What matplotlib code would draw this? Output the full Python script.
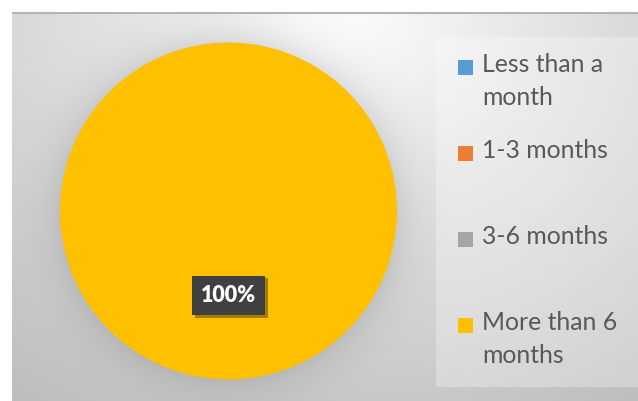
import numpy as np
import matplotlib
matplotlib.use("Agg")
import matplotlib.pyplot as plt
import matplotlib.patheffects as pe
from matplotlib.patches import Rectangle

categories = ["Less than a\nmonth", "1-3 months", "3-6 months", "More than 6\nmonths"]
values = [0, 0, 0, 100]
colors = ["#5B9BD5", "#ED7D31", "#A5A5A5", "#FFC000"]

W, H = 638, 401
fig = plt.figure(figsize=(W / 100, H / 100), dpi=100)
fig.patch.set_facecolor("white")

# chart area with a soft radial gradient and a shadow ring around the pie
x0, y0 = 12, 12
bg = fig.add_axes([x0 / W, 0, (W - x0) / W, (H - y0) / H])
bg.set_axis_off()
yy, xx = np.mgrid[y0:H, x0:W].astype(float)
d = np.hypot((xx - 330) * 1.0, (yy - 20) * 1.15)
shade = np.clip(1.0 - 0.00048 * d, 0.74, 0.985)
cx, cy, R = 228.5, 211.0, 168.5
r = np.hypot(xx - cx, yy - cy)
ring = np.exp(-np.clip(r - R, 0, None) / 22.0) * (r >= R - 2)
shade = shade * (1 - 0.10 * ring)
img = np.dstack([shade, shade, shade])
bg.imshow(img, extent=[x0, W, H, y0], aspect="auto", interpolation="bilinear")
bg.set_xlim(x0, W)
bg.set_ylim(H, y0)
bg.plot([x0, W], [y0 + 0.8, y0 + 0.8], color="#b4b4b4", lw=1.5)

# legend panel
bg.add_patch(Rectangle((436, 37), W - 436, 387 - 37, facecolor="white",
                       alpha=0.28, edgecolor="none"))

# pie
ax = fig.add_axes([(cx - R) / W, (H - cy - R) / H, 2 * R / W, 2 * R / H])
ax.set_axis_off()
wedges, texts, autotexts = ax.pie(
    values, colors=colors, startangle=90, counterclock=False,
    autopct=lambda p: f"{p:.0f}%" if p > 0 else "", pctdistance=0.5,
    wedgeprops=dict(linewidth=0),
)
ax.set_xlim(-1, 1)
ax.set_ylim(-1, 1)
for t in autotexts:
    if t.get_text():
        t.set_color("white")
        t.set_fontsize(15.5)
        t.set_fontweight("heavy")
        t.set_fontfamily("Lato")
        t.set_bbox(dict(boxstyle="square,pad=0.42", facecolor="#404040",
                        edgecolor="none"))
        t.get_bbox_patch().set_path_effects(
            [pe.SimplePatchShadow(offset=(2, -2), shadow_rgbFace="black", alpha=0.35),
             pe.Normal()])

# legend entries, first lines evenly spaced
lg = fig.add_axes([0, 0, 1, 1])
lg.set_axis_off()
lg.set_xlim(0, W)
lg.set_ylim(H, 0)
first_y, step = 67, 86
for i, (lab, col) in enumerate(zip(categories, colors)):
    yc = first_y + i * step
    lg.add_patch(Rectangle((458, yc - 7.5), 15, 15, facecolor=col, edgecolor="none"))
    lg.text(482, yc - 13.5, lab, fontsize=17.8, family="Lato", color="#595959",
            va="top", ha="left", linespacing=1.48)

fig.savefig("out.png", dpi=100)
